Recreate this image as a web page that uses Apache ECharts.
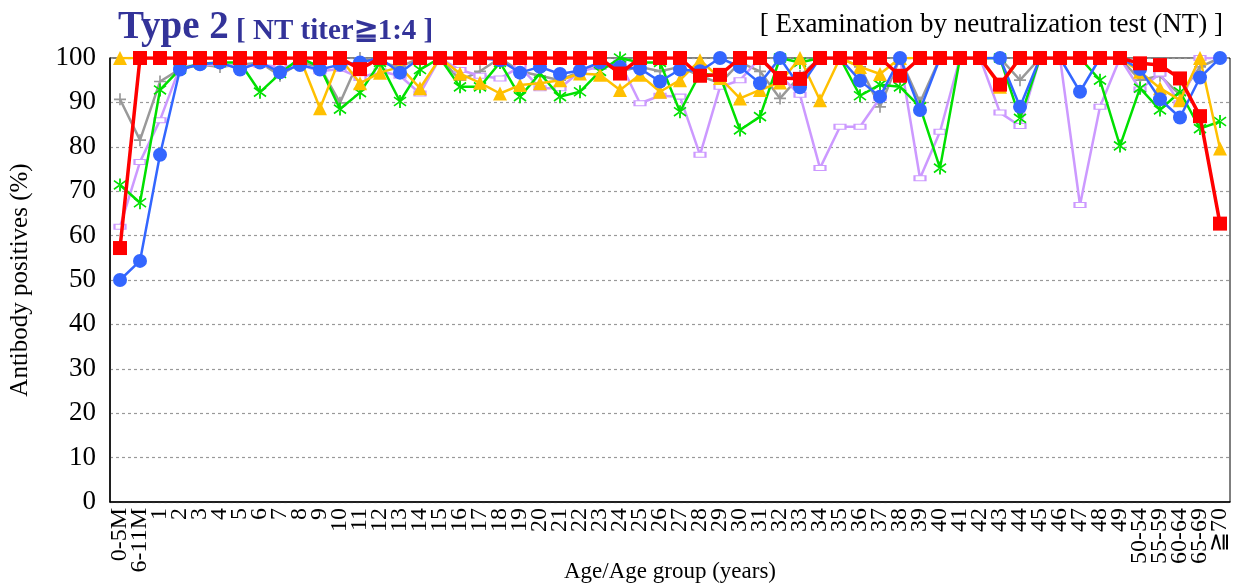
<!DOCTYPE html>
<html>
<head>
<meta charset="utf-8">
<script src="https://cdn.jsdelivr.net/npm/echarts@6/dist/echarts.min.js"></script>
<style>html,body{margin:0;padding:0;background:#fff;}#c{width:1238px;height:587px;}</style>
</head>
<body>
<div id="c"></div>
<script>
const categories = ['0-5M','6-11M','1','2','3','4','5','6','7','8','9','10','11','12','13','14','15','16','17','18','19','20','21','22','23','24','25','26','27','28','29','30','31','32','33','34','35','36','37','38','39','40','41','42','43','44','45','46','47','48','49','50-54','55-59','60-64','65-69','≧70'];

const grayValues = [90.7,81.5,94.7,97.5,98.5,98,98.5,99,96,99,98,89.9,100,99,98,100,100,95,97,100,97,96,95,97,99,97,98,97,98,96,94.3,99,97,90.9,96,100,100,98,89,100,90,100,100,100,100,95,100,100,100,100,100,95,96,91.7,98,100];
const lavenderValues = [62,76.6,86,98,98.5,98.5,98,98.5,98,98.5,97,97.5,95.5,97,96,92,100,97.3,96,95.4,98,93.2,93.2,97,98,99,89.8,91.5,91.3,78.2,93.5,95,100,96,91.7,75.2,84.5,84.5,91,100,72.9,83.4,100,100,87.7,84.7,100,100,66.9,89,100,92.9,96.5,89.8,100,100];
const greenValues = [71.4,67.4,92.8,97.5,98.7,99,99,92.3,96.5,100,98,88.5,92.2,99,90.2,97.4,100,93.5,93.5,99,91.3,96.5,91.3,92.4,97,100,99,99,87.9,96.5,96,83.8,86.8,100,99,100,100,91.5,94,93.5,89,75.2,100,100,100,86.4,100,100,100,95,80.2,93.2,88.3,92.4,84.1,85.7];
const yellowValues = [100,100,100,100,100,100,100,100,100,100,88.7,100,94.3,96.7,98,93.2,100,96.5,94.4,92,93.9,94.3,95,96.5,96.2,92.8,96.2,92.4,95,99.5,95.5,90.9,92.8,94.5,100,90.5,100,98,96.4,100,100,100,100,100,93.5,100,100,100,100,100,100,96.9,93.2,90.5,100,79.6];
const blueValues = [50,54.3,78.2,97.4,98.6,99,97.4,99,96.8,98.4,97.4,98.5,99,100,96.7,100,100,100,100,99.5,96.7,98,96.4,97.2,99,98,97.6,94.7,97.4,97,100,98,94.3,100,93.4,100,100,94.9,91.3,100,88.3,100,100,100,100,89,100,100,92.4,100,100,97.5,90.7,86.6,95.6,100];
const redValues = [57.2,100,100,100,100,100,100,100,100,100,100,100,97.5,100,100,100,100,100,100,100,100,100,100,100,100,96.5,100,100,100,96,96.2,100,100,95.5,95.3,100,100,100,100,96,100,100,100,100,94,100,100,100,100,100,100,98.8,98.4,95.4,86.9,62.7];
const yTicks = [0,10,20,30,40,50,60,70,80,90,100];

const serif = '"Liberation Serif", "DejaVu Serif", serif';
const asterisk = 'path://M4.35,0h1.3v10h-1.3z M0.3,2.2 L0.95,1.1 L9.7,7.8 L9.05,8.9z M0.3,7.8 L0.95,8.9 L9.7,2.2 L9.05,1.1z';
const plus = 'path://M4.3,0h1.4v10h-1.4z M0,4.3h10v1.4h-10z';

const chart = echarts.init(document.getElementById('c'), null, {renderer: 'canvas'});
function mk(name, data, color, width, symbol, size, extra) {
  return Object.assign({
    name: name, type: 'line', data: data, symbol: symbol, symbolSize: size,
    showAllSymbol: true, animation: false,
    lineStyle: {color: color, width: width},
    itemStyle: {color: color}
  }, extra || {});
}
chart.setOption({
  animation: false,
  backgroundColor: '#fff',
  title: [
    {text: 'Type 2{s| [ NT titer≧1:4 ]}', left: 113, top: 3,
     textStyle: {fontFamily: serif, fontWeight: 'bold', fontSize: 39, color: '#333399',
       rich: {s: {fontFamily: serif, fontWeight: 'bold', fontSize: 29, color: '#333399', padding: [8,0,0,0]}}}},
    {text: '[ Examination by neutralization test (NT) ]', right: 10, top: 6,
     textStyle: {fontFamily: serif, fontWeight: 'normal', fontSize: 27, color: '#000'}}
  ],
  grid: {left: 110, right: 8, top: 58, bottom: 85, show: true, borderColor: '#000', borderWidth: 1,
         containLabel: false, outerBoundsMode: 'none'},
  xAxis: {
    type: 'category', data: categories, boundaryGap: true,
    name: 'Age/Age group (years)', nameLocation: 'middle', nameGap: 58, nameMoveOverlap: false,
    nameTextStyle: {fontFamily: serif, fontSize: 23, color: '#000'},
    axisLine: {lineStyle: {color: '#000', width: 1.5}},
    axisTick: {show: false},
    axisLabel: {interval: 0, rotate: 90, fontFamily: serif, fontSize: 24, color: '#000', margin: 6},
    splitLine: {show: false}
  },
  yAxis: {
    type: 'value', min: yTicks[0], max: yTicks[yTicks.length-1], interval: 10,
    name: 'Antibody positives (%)', nameLocation: 'middle', nameGap: 77, nameMoveOverlap: false,
    nameTextStyle: {fontFamily: serif, fontSize: 25, color: '#000'},
    axisLine: {show: true, lineStyle: {color: '#000', width: 1.5}},
    axisTick: {show: false},
    axisLabel: {fontFamily: serif, fontSize: 27, color: '#000', margin: 14},
    splitLine: {show: true, lineStyle: {color: '#999', type: [3,3], width: 1.2}}
  },
  series: [
    mk('gray', grayValues, '#999999', 2.5, plus, 12, {z: 2}),
    mk('lavender', lavenderValues, '#CC99FF', 2.5, 'rect', [11,5],
      {z: 3, itemStyle: {color: '#fff', borderColor: '#CC99FF', borderWidth: 1.5}}),
    mk('green', greenValues, '#00E000', 2.5, asterisk, 13, {z: 4}),
    mk('yellow', yellowValues, '#FFC000', 2.5, 'triangle', 14, {z: 5}),
    mk('blue', blueValues, '#3366FF', 2.5, 'circle', 14, {z: 6}),
    mk('red', redValues, '#FF0000', 3.5, 'rect', 14, {z: 7})
  ]
});
</script>
</body>
</html>
